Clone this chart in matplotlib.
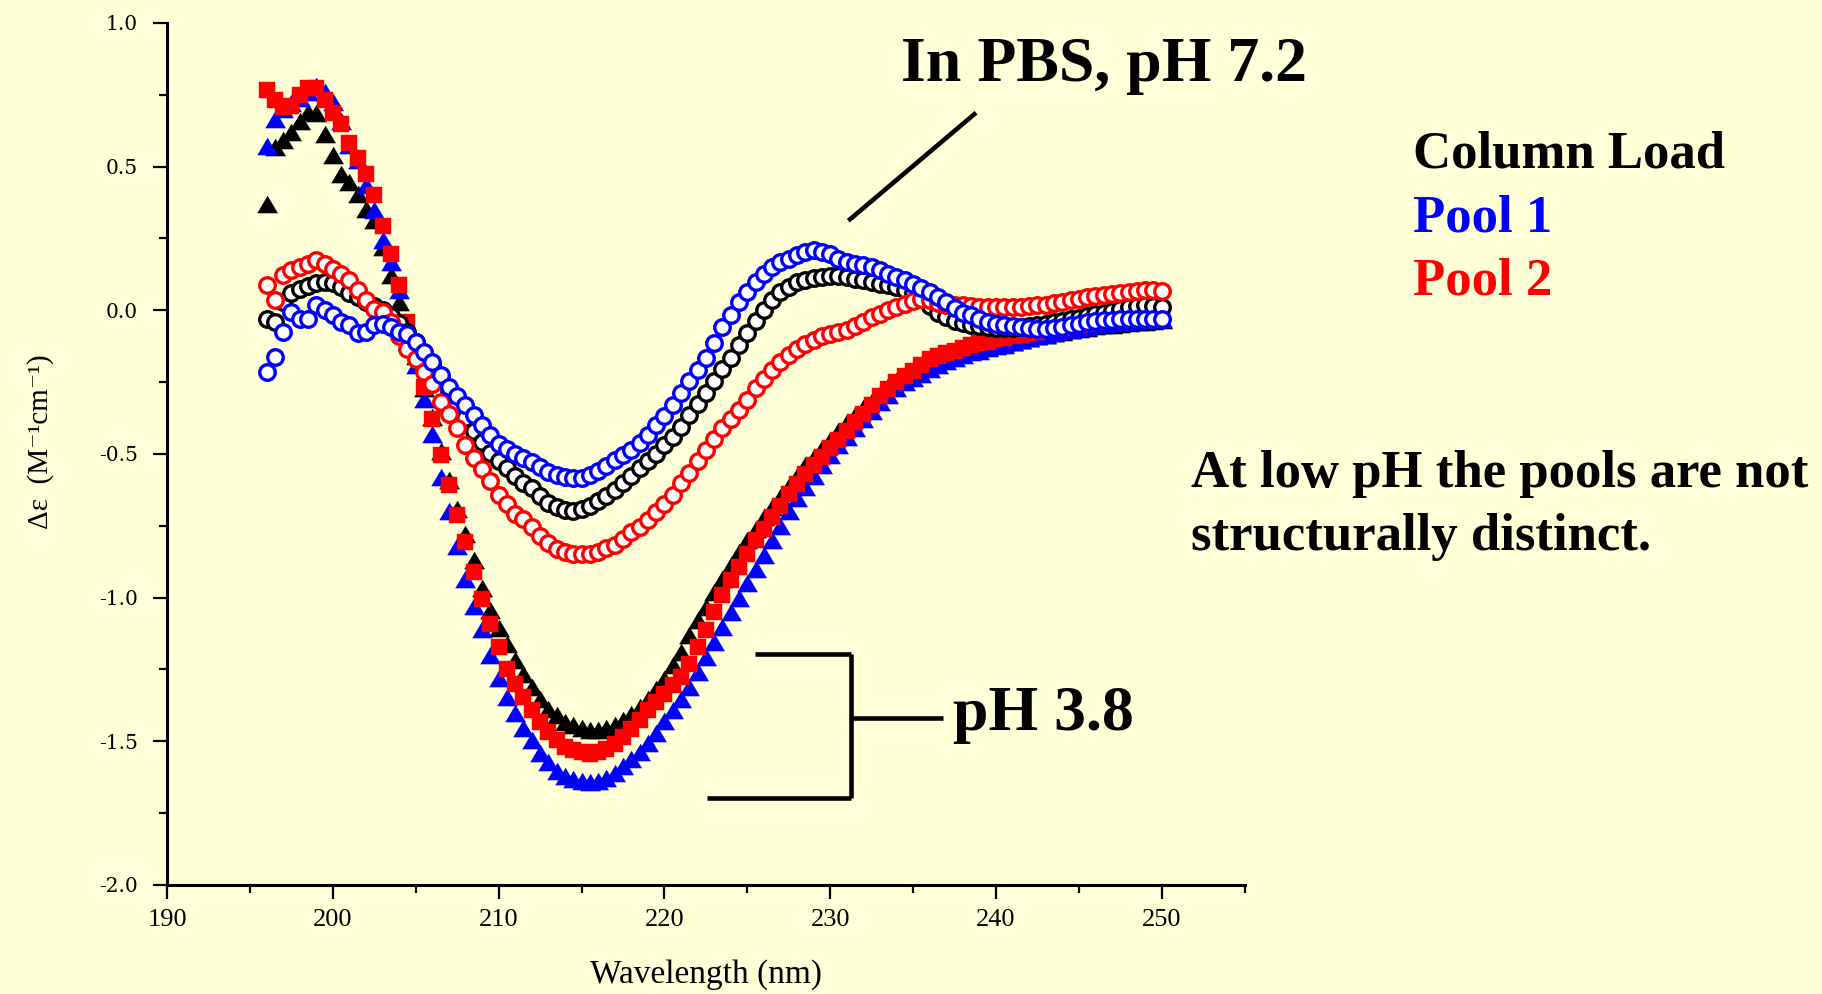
import numpy as np
import matplotlib
matplotlib.use("Agg")
import matplotlib.pyplot as plt
from matplotlib.lines import Line2D
from matplotlib.ticker import MultipleLocator

plt.rcParams['font.family'] = ['Liberation Serif', 'DejaVu Serif']
plt.rcParams['mathtext.fontset'] = 'stix'

# Wavelength grid of the CD scans (nm)
wavelength = np.arange(196.0, 250.01, 0.5)

# pH 7.2 (PBS) spectra, delta-epsilon in M^-1 cm^-1
ph72_column_load = [
    -0.03, -0.04, 0.03, 0.06, 0.075, 0.085, 0.095, 0.10, 0.095, 0.08,
    0.06, 0.045, 0.03, 0.015, 0.0, -0.02, -0.045, -0.075, -0.11, -0.15,
    -0.19, -0.235, -0.28, -0.33, -0.375, -0.42, -0.46, -0.495, -0.525, -0.55,
    -0.575, -0.60, -0.62, -0.645, -0.67, -0.685, -0.695, -0.697, -0.69, -0.68,
    -0.665, -0.645, -0.625, -0.60, -0.575, -0.55, -0.525, -0.50, -0.47, -0.44,
    -0.405, -0.365, -0.325, -0.288, -0.245, -0.205, -0.165, -0.122, -0.08, -0.037,
    0.0, 0.035, 0.062, 0.08, 0.097, 0.107, 0.113, 0.117, 0.12, 0.12,
    0.117, 0.11, 0.104, 0.099, 0.093, 0.087, 0.08, 0.072, 0.06, 0.04,
    0.015, -0.01, -0.025, -0.038, -0.045, -0.05, -0.055, -0.058, -0.06, -0.06,
    -0.06, -0.058, -0.055, -0.05, -0.046, -0.042, -0.037, -0.032, -0.026, -0.02,
    -0.014, -0.008, -0.002, 0.004, 0.01, 0.015, 0.018, 0.015, 0.01,
]
ph72_pool1 = [
    -0.215, -0.162, -0.075, -0.006, -0.029, -0.029, 0.017, 0.0, -0.017, -0.041,
    -0.052, -0.079, -0.075, -0.052, -0.046, -0.058, -0.075, -0.081, -0.11, -0.145,
    -0.18, -0.225, -0.267, -0.30, -0.331, -0.365, -0.40, -0.435, -0.464, -0.483,
    -0.499, -0.515, -0.528, -0.547, -0.563, -0.572, -0.58, -0.583, -0.582, -0.572,
    -0.559, -0.541, -0.522, -0.505, -0.487, -0.462, -0.435, -0.40, -0.368, -0.328,
    -0.288, -0.247, -0.207, -0.165, -0.114, -0.058, -0.017, 0.029, 0.064, 0.099,
    0.128, 0.151, 0.168, 0.18, 0.191, 0.203, 0.209, 0.203, 0.195, 0.18,
    0.168, 0.162, 0.157, 0.149, 0.139, 0.128, 0.116, 0.104, 0.09, 0.078,
    0.062, 0.045, 0.028, 0.008, -0.008, -0.018, -0.029, -0.04, -0.046, -0.05,
    -0.055, -0.058, -0.062, -0.064, -0.064, -0.062, -0.058, -0.052, -0.047, -0.042,
    -0.037, -0.035, -0.033, -0.032, -0.03, -0.029, -0.029, -0.029, -0.029,
]
ph72_pool2 = [
    0.087, 0.037, 0.122, 0.139, 0.151, 0.162, 0.174, 0.162, 0.145, 0.128,
    0.104, 0.07, 0.035, 0.006, -0.005, -0.04, -0.09, -0.135, -0.17, -0.215,
    -0.257, -0.319, -0.36, -0.41, -0.47, -0.515, -0.553, -0.595, -0.644, -0.673,
    -0.708, -0.728, -0.755, -0.785, -0.81, -0.83, -0.841, -0.847, -0.847, -0.847,
    -0.841, -0.826, -0.816, -0.795, -0.772, -0.754, -0.731, -0.702, -0.673, -0.644,
    -0.60, -0.565, -0.525, -0.487, -0.447, -0.41, -0.377, -0.346, -0.313, -0.272,
    -0.238, -0.209, -0.18, -0.157, -0.133, -0.116, -0.102, -0.091, -0.081, -0.075,
    -0.067, -0.056, -0.041, -0.025, -0.012, 0.0, 0.012, 0.023, 0.033, 0.04,
    0.037, 0.025, 0.02, 0.018, 0.017, 0.015, 0.013, 0.012, 0.012, 0.012,
    0.012, 0.013, 0.015, 0.017, 0.02, 0.025, 0.03, 0.035, 0.04, 0.045,
    0.05, 0.053, 0.056, 0.06, 0.065, 0.068, 0.07, 0.07, 0.068,
]

# pH 3.8 spectra
ph38_column_load = [
    0.371, 0.568, 0.592, 0.621, 0.66, 0.69, 0.685, 0.615, 0.54, 0.476,
    0.447, 0.406, 0.354, 0.313, 0.22, 0.122, 0.029, -0.06, -0.16, -0.27,
    -0.37, -0.49, -0.59, -0.69, -0.78, -0.87, -0.965, -1.044, -1.105, -1.16,
    -1.218, -1.265, -1.311, -1.352, -1.386, -1.41, -1.433, -1.444, -1.454, -1.46,
    -1.46, -1.454, -1.444, -1.427, -1.404, -1.38, -1.352, -1.317, -1.282, -1.236,
    -1.189, -1.131, -1.079, -1.033, -0.981, -0.934, -0.888, -0.841, -0.80, -0.76,
    -0.72, -0.685, -0.65, -0.61, -0.575, -0.54, -0.51, -0.48, -0.45, -0.42,
    -0.39, -0.365, -0.34, -0.315, -0.29, -0.265, -0.245, -0.227, -0.21, -0.195,
    -0.18, -0.17, -0.16, -0.15, -0.14, -0.135, -0.13, -0.125, -0.12, -0.115,
    -0.11, -0.102, -0.095, -0.09, -0.085, -0.08, -0.075, -0.07, -0.065, -0.06,
    -0.055, -0.052, -0.05, -0.047, -0.045, -0.042, -0.04, -0.037, -0.035,
]
ph38_pool1 = [
    0.571, 0.667, 0.70, 0.72, 0.74, 0.76, 0.78, 0.76, 0.725, 0.66,
    0.574, 0.522, 0.435, 0.348, 0.244, 0.168, 0.07, -0.06, -0.19, -0.31,
    -0.43, -0.58, -0.70, -0.82, -0.935, -1.03, -1.11, -1.20, -1.28, -1.345,
    -1.40, -1.452, -1.495, -1.54, -1.572, -1.605, -1.622, -1.632, -1.639, -1.642,
    -1.638, -1.628, -1.61, -1.586, -1.562, -1.538, -1.505, -1.472, -1.428, -1.392,
    -1.352, -1.31, -1.259, -1.207, -1.155, -1.103, -1.051, -1.0, -0.95, -0.90,
    -0.85, -0.80, -0.75, -0.70, -0.655, -0.615, -0.575, -0.54, -0.505, -0.47,
    -0.44, -0.41, -0.38, -0.35, -0.32, -0.295, -0.27, -0.25, -0.235, -0.22,
    -0.205, -0.19, -0.175, -0.165, -0.155, -0.145, -0.14, -0.13, -0.125, -0.12,
    -0.112, -0.105, -0.095, -0.09, -0.085, -0.078, -0.072, -0.067, -0.062, -0.057,
    -0.052, -0.048, -0.045, -0.042, -0.04, -0.037, -0.035, -0.032, -0.03,
]
ph38_pool2 = [
    0.768, 0.733, 0.708, 0.71, 0.748, 0.772, 0.775, 0.731, 0.685, 0.65,
    0.582, 0.53, 0.473, 0.40, 0.293, 0.197, 0.087, -0.041, -0.157, -0.267,
    -0.377, -0.505, -0.609, -0.714, -0.806, -0.911, -1.004, -1.091, -1.172, -1.247,
    -1.30, -1.346, -1.392, -1.433, -1.468, -1.497, -1.52, -1.531, -1.537, -1.543,
    -1.537, -1.526, -1.508, -1.485, -1.456, -1.427, -1.392, -1.363, -1.334, -1.305,
    -1.276, -1.23, -1.172, -1.114, -1.05, -0.992, -0.94, -0.893, -0.847, -0.80,
    -0.76, -0.72, -0.68, -0.64, -0.605, -0.57, -0.54, -0.51, -0.48, -0.45,
    -0.42, -0.39, -0.36, -0.33, -0.30, -0.275, -0.25, -0.23, -0.21, -0.19,
    -0.17, -0.16, -0.15, -0.14, -0.13, -0.12, -0.115, -0.11, -0.10, -0.095,
    -0.09, -0.085, -0.08, -0.075, -0.07, -0.065, -0.06, -0.055, -0.05, -0.045,
    -0.04, -0.035, -0.03, -0.025, -0.02, -0.015, -0.01, -0.005, 0.0,
]

x_ticks = [190, 200, 210, 220, 230, 240, 250]
y_ticks = [-2.0, -1.5, -1.0, -0.5, 0.0, 0.5, 1.0]
y_tick_labels = ["-2.0", "-1.5", "-1.0", "-0.5", "0.0", "0.5", "1.0"]

BG = '#FFFFD8'
BLACK, BLUE, RED = '#000000', '#0000FF', '#FF0000'

fig = plt.figure(figsize=(18.22, 9.94), dpi=100, facecolor=BG)
ax = fig.add_axes([0.0917, 0.1097, 0.5914, 0.8672])
ax.set_facecolor(BG)

tri = [(-1.0, -0.85), (1.0, -0.85), (0.0, 0.85)]

# pH 3.8: filled markers
ax.plot(wavelength, ph38_column_load, ls='none', marker=tri, ms=14.5,
        mfc=BLACK, mec=BLACK, mew=0.3, zorder=2, clip_on=False)
ax.plot(wavelength, ph38_pool1, ls='none', marker=tri, ms=14.5,
        mfc=BLUE, mec=BLUE, mew=0.3, zorder=3, clip_on=False)
ax.plot(wavelength, ph38_pool2, ls='none', marker='s', ms=11.5,
        mfc=RED, mec=RED, mew=0.3, zorder=4, clip_on=False)

# pH 7.2: open circles
ax.plot(wavelength, ph72_column_load, ls='none', marker='o', ms=11.2,
        mfc='white', mec=BLACK, mew=2.4, zorder=5, clip_on=False)
ax.plot(wavelength, ph72_pool2, ls='none', marker='o', ms=11.2,
        mfc='white', mec=RED, mew=2.4, zorder=6, clip_on=False)
ax.plot(wavelength, ph72_pool1, ls='none', marker='o', ms=11.2,
        mfc='white', mec=BLUE, mew=2.4, zorder=7, clip_on=False)

ax.set_xlim(190, 255)
ax.set_ylim(-2.0, 1.0)
ax.set_xticks(x_ticks)
ax.set_xticklabels([str(t) for t in x_ticks])
ax.set_yticks(y_ticks)
ax.set_yticklabels(y_tick_labels, fontfamily='DejaVu Serif')
ax.xaxis.set_minor_locator(MultipleLocator(5))
ax.yaxis.set_minor_locator(MultipleLocator(0.25))

for side in ('top', 'right'):
    ax.spines[side].set_visible(False)
for side in ('left', 'bottom'):
    ax.spines[side].set_linewidth(2.2)

ax.tick_params(which='major', direction='out', length=10, width=1.6, color='black')
ax.tick_params(which='minor', direction='out', length=6, width=1.6, color='black')
ax.tick_params(axis='x', which='major', labelsize=19, pad=7)
ax.tick_params(axis='y', which='major', labelsize=14.5, pad=11)

# Axis titles
fig.text(0.3877, 0.020, 'Wavelength (nm)', fontsize=24, ha='center', va='center')
fig.text(0.0223, 0.556, 'Δε  (M⁻¹cm⁻¹)', fontsize=21,
         rotation=90, ha='center', va='center')

# Annotations
fig.text(0.606, 0.934, 'In PBS, pH 7.2', fontsize=46, fontweight='bold',
         ha='center', va='center')
fig.text(0.523, 0.281, 'pH 3.8', fontsize=46, fontweight='bold',
         ha='left', va='center')
fig.text(0.7755, 0.8446, 'Column Load', fontsize=38, fontweight='bold',
         color=BLACK, ha='left', va='center')
fig.text(0.7755, 0.780, 'Pool 1', fontsize=38, fontweight='bold',
         color=BLUE, ha='left', va='center')
fig.text(0.7755, 0.717, 'Pool 2', fontsize=38, fontweight='bold',
         color=RED, ha='left', va='center')
fig.text(0.6537, 0.523, 'At low pH the pools are not', fontsize=38,
         fontweight='bold', ha='left', va='center')
fig.text(0.6537, 0.460, 'structurally distinct.', fontsize=38,
         fontweight='bold', ha='left', va='center')

# Pointer from the PBS label and bracket grouping the pH 3.8 curves
lw = 3.3
segments = [
    ((0.4656, 0.5357), (0.7779, 0.8866)),
    ((0.4145, 0.4668), (0.3418, 0.3418)),
    ((0.4668, 0.4668), (0.3418, 0.1969)),
    ((0.3878, 0.4668), (0.1969, 0.1969)),
    ((0.4668, 0.5178), (0.2776, 0.2776)),
]
for xs, ys in segments:
    fig.add_artist(Line2D(xs, ys, transform=fig.transFigure, color='black',
                          lw=lw, solid_capstyle='butt'))

fig.savefig('out.png', dpi=100, facecolor=BG)
